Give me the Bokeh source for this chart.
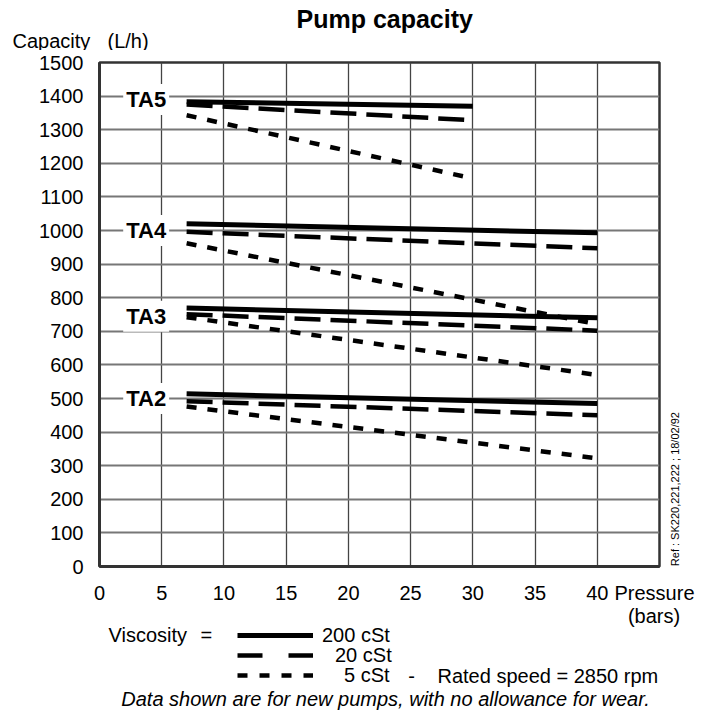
import numpy as np
from bokeh.plotting import figure
from bokeh.layouts import column
from bokeh.models import Range1d, Label, Legend, LegendItem, LinearAxis, FixedTicker
from bokeh.embed import file_html
from bokeh.resources import INLINE

FONT = "Liberation Sans"

# ---- data ----
pressure_ta5 = [7, 30]          # bars
pressure_std = [7, 40]          # bars

ta5_200 = [1383, 1370]
ta5_20 = [1375, 1328]
ta5_5 = [1343, 1155]

ta4_200 = [1020, 993]
ta4_20 = [996, 947]
ta4_5 = [962, 721]

ta3_200 = [769, 740]
ta3_20 = [751, 702]
ta3_5 = [742, 570]

ta2_200 = [514, 485]
ta2_20 = [492, 450]
ta2_5 = [476, 322]

pump_names = ["TA5", "TA4", "TA3", "TA2"]
pump_label_y = [1390, 1000, 745, 500]
pump_label_x = 3.75

x_ticks = [0, 5, 10, 15, 20, 25, 30, 35, 40]
y_ticks = list(range(0, 1600, 100))
pressure_label_pos = 44.6
ref_tick = 1
ref_text = "Ref : SK220,221,222 ; 18/02/92"
viscosity_labels = ["200 cSt", "20 cSt", "5 cSt"]

STYLES = {
    "200": dict(line_width=5, line_dash="solid"),
    "20": dict(line_width=4.5, line_dash="26 10"),
    "5": dict(line_width=4.5, line_dash="10 11"),
}
LEGEND_STYLES = {
    "200": dict(line_width=5, line_dash="solid"),
    "20": dict(line_width=4.5, line_dash="25 26"),
    "5": dict(line_width=4.5, line_dash="10 12"),
}

W = 706
TOP_H, MAIN_H, BOT_H = 50, 556, 106


def text_strip(height, y0):
    f = figure(width=W, height=height, output_backend="svg", toolbar_location=None,
               x_range=Range1d(0, W), y_range=Range1d(y0 + height, y0),
               x_axis_type=None, y_axis_type=None, min_border=0, title=None,
               frame_align=False)
    f.outline_line_color = None
    f.background_fill_color = "white"
    f.border_fill_color = "white"
    return f


def lab(fig, x, y, text, size="20px", align="left", style="normal"):
    fig.add_layout(Label(x=x, y=y, text=text, text_font=FONT, text_font_size=size,
                         text_font_style=style, text_align=align,
                         text_baseline="middle", text_color="black"))


# ---------------- top strip: title + y unit ----------------
top = text_strip(TOP_H, 0)
lab(top, 296, 18, "Pump capacity", size="25px", style="bold")
lab(top, 12, 40, "Capacity")
lab(top, 107, 40, "(L/h)")

# ---------------- main chart ----------------
p = figure(width=W, height=MAIN_H, output_backend="svg", toolbar_location=None,
           x_range=Range1d(0, 45), y_range=Range1d(0, 1500),
           min_border_left=99, min_border_right=W - 659, min_border_top=12,
           min_border_bottom=33, title=None, frame_align=False)
p.background_fill_color = "white"
p.border_fill_color = "white"
p.outline_line_color = "#333333"
p.outline_line_width = 2.5

p.xaxis.ticker = FixedTicker(ticks=x_ticks + [pressure_label_pos])
overrides = {t: str(t) for t in x_ticks}
overrides[pressure_label_pos] = "Pressure"
p.xaxis.major_label_overrides = overrides
p.yaxis.ticker = y_ticks
p.xgrid.ticker = FixedTicker(ticks=x_ticks)
p.ygrid.ticker = FixedTicker(ticks=y_ticks)
p.xgrid.grid_line_color = "#444444"
p.xgrid.grid_line_width = 1.3
p.ygrid.grid_line_color = "#777777"
p.ygrid.grid_line_width = 1.8

for ax in (p.xaxis, p.yaxis):
    ax.major_tick_line_color = None
    ax.minor_tick_line_color = None
    ax.major_tick_out = 0
    ax.major_tick_in = 0
    ax.axis_line_width = 3
    ax.axis_line_color = "#333333"
    ax.major_label_text_font = FONT
    ax.major_label_text_font_size = "20px"
    ax.major_label_text_color = "black"
p.xaxis.major_label_standoff = 15
p.yaxis.major_label_standoff = 16

ref_axis = LinearAxis(ticker=FixedTicker(ticks=[ref_tick]),
                      major_label_overrides={ref_tick: ref_text},
                      major_label_orientation=np.pi / 2,
                      axis_line_color=None, major_tick_line_color=None,
                      minor_tick_line_color=None, major_tick_out=0, major_tick_in=0,
                      major_label_standoff=16, major_label_text_font=FONT,
                      major_label_text_font_size="11px", major_label_text_color="black")
p.add_layout(ref_axis, "right")

series = [
    (pressure_ta5, ta5_200, "200"), (pressure_ta5, ta5_20, "20"), (pressure_ta5, ta5_5, "5"),
    (pressure_std, ta4_200, "200"), (pressure_std, ta4_20, "20"), (pressure_std, ta4_5, "5"),
    (pressure_std, ta3_200, "200"), (pressure_std, ta3_20, "20"), (pressure_std, ta3_5, "5"),
    (pressure_std, ta2_200, "200"), (pressure_std, ta2_20, "20"), (pressure_std, ta2_5, "5"),
]
for xs, ys, kind in series:
    p.line(xs, ys, line_color="black", **STYLES[kind])

for name, yv in zip(pump_names, pump_label_y):
    p.add_layout(Label(x=pump_label_x, y=yv, text=name, text_font=FONT,
                       text_font_size="22px", text_font_style="bold",
                       text_align="center", text_baseline="middle", text_color="black",
                       background_fill_color="white", padding=3))

# ---------------- bottom strip: legend + notes ----------------
y0 = TOP_H + MAIN_H
bot = text_strip(BOT_H, y0)
lab(bot, 653.5, 615, "(bars)", align="center")
lab(bot, 108, 634, "Viscosity")
lab(bot, 200, 634, "=")
lab(bot, 411, 675, "-", align="center")
lab(bot, 437, 675, "Rated speed = 2850 rpm")
lab(bot, 385, 698, "Data shown are for new pumps, with no allowance for wear.",
    align="center", style="italic")

# legend keys: the TA2 curves, which fall outside this strip's range (not drawn here)
legend_series = [ta2_200, ta2_20, ta2_5]
legend_centers = [635, 655, 675]
legend_standoff = [9, 22, 31]
ITEM_H = 26
for kind, ys, text, cy, so in zip(["200", "20", "5"], legend_series, viscosity_labels,
                                  legend_centers, legend_standoff):
    r = bot.line(pressure_std, ys, line_color="black", **LEGEND_STYLES[kind])
    vy = (y0 + BOT_H) - (cy + ITEM_H / 2)
    lg = Legend(items=[LegendItem(label=text, renderers=[r])], location=(237, vy),
                glyph_width=76, glyph_height=ITEM_H, label_height=ITEM_H,
                label_standoff=so, padding=0, margin=0, spacing=0,
                border_line_color=None, background_fill_alpha=0,
                label_text_font=FONT, label_text_font_size="20px",
                label_text_color="black")
    bot.add_layout(lg)

layout = column(top, p, bot, spacing=0)
open("out.html", "w").write(file_html(layout, INLINE))
